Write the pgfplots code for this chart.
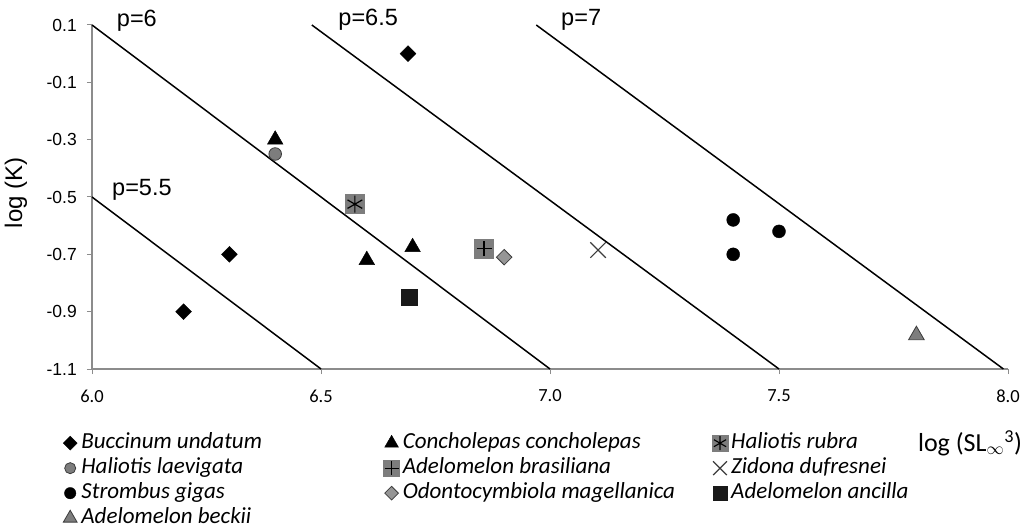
\documentclass[border=0pt]{standalone}
\usepackage{fontspec}
\setmainfont{Carlito}
\newfontfamily\arial{Liberation Sans}
\usepackage{pgfplots}
\pgfplotsset{compat=1.18}
\definecolor{axisgray}{RGB}{140,140,140}
\definecolor{mgray}{RGB}{125,125,125}
\definecolor{lgray}{RGB}{150,150,150}
\definecolor{dgray}{RGB}{60,60,60}
\begin{document}
\begin{tikzpicture}
\useasboundingbox (0,0) rectangle (1025bp,531bp);
\begin{axis}[
  at={(92bp,162bp)}, anchor=south west,
  scale only axis, width=916bp, height=344bp,
  xmin=6, xmax=8, ymin=-1.1, ymax=0.1,
  axis x line=bottom, axis y line=left,
  axis line style={axisgray, line width=1.2bp, -},
  xtick={6,6.5,7,7.5,8}, xticklabels={6.0,6.5,7.0,7.5,8.0},
  ytick={-1.1,-0.9,-0.7,-0.5,-0.3,-0.1,0.1},
  yticklabels={-1.1,-0.9,-0.7,-0.5,-0.3,-0.1,0.1},
  tick align=outside, major tick length=5bp,
  tick style={axisgray, line width=1bp},
  xticklabel style={font=\fontsize{18.5bp}{20bp}\selectfont, anchor=center, yshift=-22bp, inner sep=0pt},
  yticklabel style={font=\arial\fontsize{17.5bp}{20bp}\selectfont, anchor=east, inner sep=0pt, xshift=-10bp},
  xlabel={log (SL\textsubscript{$\infty$}\textsuperscript{3})},
  xlabel style={font=\fontsize{26bp}{28bp}\selectfont, at={(axis description cs:0.9585,-0.215)}, anchor=center},
  ylabel={log (K)},
  ylabel style={font=\arial\fontsize{24bp}{26bp}\selectfont, at={(axis description cs:-0.083,0.512)}, anchor=center},
  clip=false,
  legend columns=3,
  legend cell align=left,
  legend style={draw=none, fill=none, inner sep=0pt, outer sep=0pt,
    at={(axis description cs:-0.03275,-0.188)}, anchor=north west,
    column sep=0pt, row sep=6bp,
    nodes={inner sep=0pt, text height=15bp, text depth=4bp},
    font=\fontsize{23bp}{25bp}\selectfont\itshape},
  legend image code/.code={\path (0bp,-1bp) (19bp,1bp); \draw[#1, only marks, every mark/.append style={scale=0.88}] plot coordinates {(8bp,0bp)};},
]
% p lines
\addplot[black, line width=1.5bp, forget plot] coordinates {(6.0,-0.5) (6.5,-1.1)};
\addplot[black, line width=1.5bp, forget plot] coordinates {(6.0,0.1) (7.0,-1.1)};
\addplot[black, line width=1.5bp, forget plot] coordinates {(6.48,0.1) (7.5,-1.1)};
\addplot[black, line width=1.5bp, forget plot] coordinates {(6.97,0.1) (7.99,-1.1)};
\node[font=\arial\fontsize{23.5bp}{25bp}\selectfont] at (axis cs:6.098,0.115) {p=6};
\node[font=\arial\fontsize{23.5bp}{25bp}\selectfont] at (axis cs:6.603,0.118) {p=6.5};
\node[font=\arial\fontsize{23.5bp}{25bp}\selectfont] at (axis cs:7.068,0.118) {p=7};
\node[font=\arial\fontsize{23.5bp}{25bp}\selectfont] at (axis cs:6.109,-0.476) {p=5.5};
% Buccinum undatum
\addplot[only marks, mark=square*, mark size=5.6bp, mark options={rotate=45, fill=black, draw=black}]
  coordinates {(6.69,0.0) (6.30,-0.70) (6.20,-0.90)};
\addlegendentry{\makebox[302bp][l]{Buccinum undatum}}
% Concholepas concholepas
\addplot[only marks, mark=triangle*, mark size=9bp, mark options={fill=black, draw=black}]
  coordinates {(6.40,-0.30) (6.60,-0.72) (6.70,-0.675)};
\addlegendentry{\makebox[309bp][l]{Concholepas concholepas}}
% Haliotis rubra
\addplot[only marks, mark=square*, mark size=9.5bp, mark options={fill=mgray, draw=mgray},
  legend image code/.code={\path (0bp,-1bp) (19bp,1bp);
    \draw[only marks, mark=square*, mark size=8bp, mark options={fill=mgray, draw=mgray}] plot coordinates {(8bp,0bp)};
    \draw[only marks, mark=asterisk, mark size=7bp, mark options={draw=black, line width=1.1bp}] plot coordinates {(8bp,0bp)};}]
  coordinates {(6.574,-0.525)};
\addlegendentry{Haliotis rubra}
\addplot[only marks, mark=asterisk, mark size=8.5bp, mark options={draw=black, line width=1.2bp}, forget plot]
  coordinates {(6.574,-0.525)};
% Haliotis laevigata
\addplot[only marks, mark=*, mark size=6.3bp, mark options={fill=mgray, draw=dgray, line width=0.8bp}]
  coordinates {(6.40,-0.35)};
\addlegendentry{\makebox[302bp][l]{Haliotis laevigata}}
% Adelomelon brasiliana
\addplot[only marks, mark=square*, mark size=9.5bp, mark options={fill=mgray, draw=mgray},
  legend image code/.code={\path (0bp,-1bp) (19bp,1bp);
    \draw[only marks, mark=square*, mark size=8bp, mark options={fill=mgray, draw=mgray}] plot coordinates {(8bp,0bp)};
    \draw[only marks, mark=+, mark size=7bp, mark options={draw=black, line width=1.1bp}] plot coordinates {(8bp,0bp)};}]
  coordinates {(6.856,-0.68)};
\addlegendentry{\makebox[309bp][l]{Adelomelon brasiliana}}
\addplot[only marks, mark=+, mark size=7.5bp, mark options={draw=black, line width=1.2bp}, forget plot]
  coordinates {(6.856,-0.68)};
% Zidona dufresnei
\addplot[only marks, mark=x, mark size=11bp, mark options={draw=dgray, line width=1.2bp}]
  coordinates {(7.105,-0.685)};
\addlegendentry{Zidona dufresnei}
% Strombus gigas
\addplot[only marks, mark=*, mark size=6.5bp, mark options={fill=black, draw=black}]
  coordinates {(7.40,-0.58) (7.40,-0.70) (7.50,-0.62)};
\addlegendentry{\makebox[302bp][l]{Strombus gigas}}
% Odontocymbiola magellanica
\addplot[only marks, mark=square*, mark size=5.5bp, mark options={rotate=45, fill=lgray, draw=dgray, line width=0.8bp}]
  coordinates {(6.90,-0.71)};
\addlegendentry{\makebox[309bp][l]{Odontocymbiola magellanica}}
% Adelomelon ancilla
\addplot[only marks, mark=square*, mark size=7.8bp, mark options={fill=black!90, draw=black!90}]
  coordinates {(6.692,-0.85)};
\addlegendentry{Adelomelon ancilla}
% Adelomelon beckii
\addplot[only marks, mark=triangle*, mark size=9bp, mark options={fill=mgray, draw=dgray, line width=0.8bp}]
  coordinates {(7.80,-0.982)};
\addlegendentry{\makebox[302bp][l]{Adelomelon beckii}}
\end{axis}
\end{tikzpicture}
\end{document}
